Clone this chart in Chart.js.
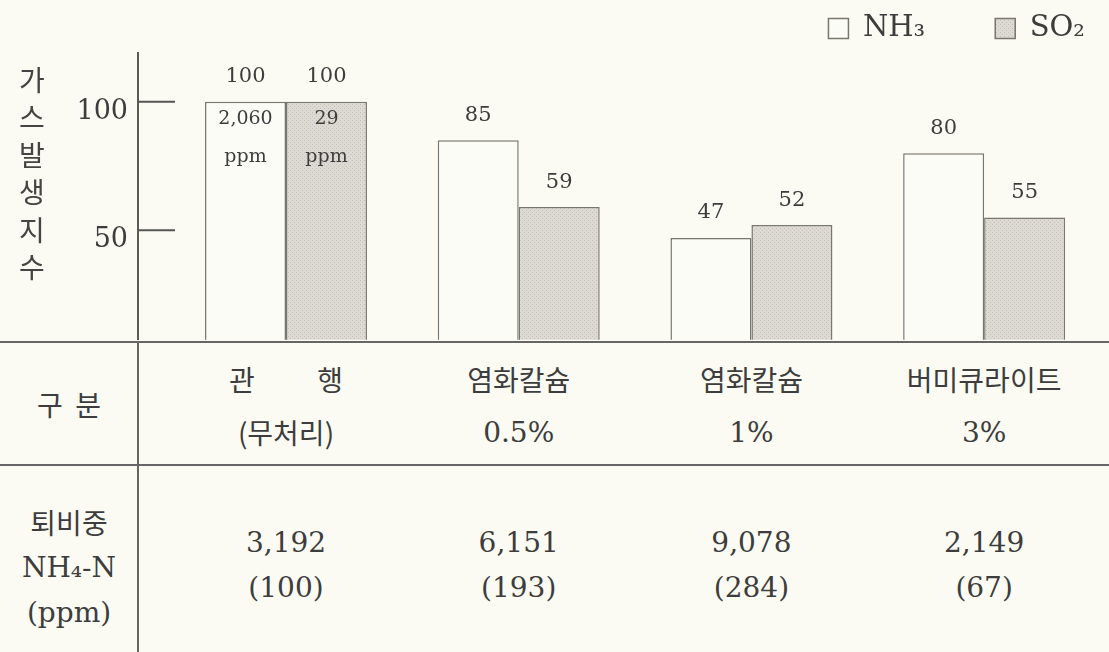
<!DOCTYPE html>
<html>
<head>
<meta charset="utf-8">
<script src="https://cdn.jsdelivr.net/npm/chart.js@4.4.1/dist/chart.umd.min.js"></script>
<style>
    html, body { margin: 0; padding: 0; background: #fbfbf3; }
    #wrap { position: relative; width: 1109px; height: 652px; overflow: hidden; }
    #chart { position: absolute; left: 0; top: 0; }
    #ytitle {
        position: absolute; left: 17px; top: 61px; width: 30px;
        font: 28px "Noto Sans CJK KR"; color: #444; line-height: 37.4px; text-align: center;
    }
    #table {
        position: absolute; left: 0; top: 341px; width: 1109px; height: 311px;
        border-top: 2px solid #666; box-sizing: border-box;
    }
    .cell {
        position: absolute; transform: translate(-50%, -50%);
        white-space: pre; color: #3d3d3d; line-height: 1;
    }
    .kr { font: 28px "Noto Sans CJK KR"; }
    .num { font: 28px "DejaVu Serif"; }
    .hline { position: absolute; left: 0; width: 1109px; height: 2px; background: #666; }
    .vline { position: absolute; top: 0; width: 2px; height: 311px; background: #666; }
</style>
</head>
<body>
<div id="wrap">
    <canvas id="chart" width="1109" height="341"></canvas>
    <div id="ytitle"></div>
    <div id="table"></div>
</div>
<script>
// categories (table header) and series
const categories = ['관　　 행', '염화칼슘', '염화칼슘', '버미큐라이트'];
const categoryNotes = ['(무처리)', '0.5%', '1%', '3%'];
const nh3Values = [100, 85, 47, 80];
const so2Values = [100, 59, 52, 55];
// ppm notes written inside the control bars
const ppmNotes = [['2,060', 'ppm'], ['29', 'ppm']];
const tickValues = [50, 100];
const yTitle = ['가', '스', '발', '생', '지', '수'];
// NH4-N in compost row
const nh4Values = ['3,192', '6,151', '9,078', '2,149'];
const nh4Index = ['(100)', '(193)', '(284)', '(67)'];

document.getElementById('ytitle').innerHTML = yTitle.join('<br>');

function dotPattern() {
    const c = document.createElement('canvas');
    c.width = 4; c.height = 4;
    const g = c.getContext('2d');
    g.fillStyle = '#dcdad2';
    g.fillRect(0, 0, 4, 4);
    g.fillStyle = '#c2c0b8';
    g.fillRect(0, 0, 1, 1);
    g.fillRect(2, 2, 1, 1);
    return g.createPattern(c, 'repeat');
}

const barLabels = {
    id: 'barLabels',
    afterDatasetsDraw(chart) {
        const ctx = chart.ctx;
        ctx.save();
        ctx.fillStyle = '#3d3d3d';
        ctx.textAlign = 'center';
        ctx.textBaseline = 'middle';
        chart.data.datasets.forEach((ds, di) => {
            chart.getDatasetMeta(di).data.forEach((bar, i) => {
                ctx.font = '21px "DejaVu Serif"';
                ctx.fillText(String(ds.data[i].y), bar.x, bar.y - 25);
                if (i === 0) {
                    ctx.font = '19px "DejaVu Serif"';
                    ctx.fillText(ppmNotes[di][0], bar.x, bar.y + 17);
                    ctx.fillText(ppmNotes[di][1], bar.x, bar.y + 55);
                }
            });
        });
        // short tick dashes inside the plot
        const y = chart.scales.y;
        ctx.strokeStyle = '#555';
        ctx.lineWidth = 2;
        tickValues.forEach(v => {
            const py = y.getPixelForValue(v);
            ctx.beginPath();
            ctx.moveTo(chart.chartArea.left, py);
            ctx.lineTo(chart.chartArea.left + 37, py);
            ctx.stroke();
        });
        ctx.restore();
    }
};

const chart = new Chart(document.getElementById('chart'), {
    type: 'bar',
    data: {
        datasets: [
            {
                label: 'NH₃',
                data: nh3Values.map((v, i) => ({ x: i, y: v })),
                backgroundColor: '#fcfcf6',
                borderColor: '#77776f',
                borderWidth: 1.5,
            },
            {
                label: 'SO₂',
                data: so2Values.map((v, i) => ({ x: i, y: v })),
                backgroundColor: dotPattern(),
                borderColor: '#77776f',
                borderWidth: 1.5,
            },
        ],
    },
    options: {
        responsive: false,
        animation: false,
        categoryPercentage: 0.696,
        barPercentage: 1.0,
        layout: { autoPadding: false, padding: { top: 2, right: 12, left: 0, bottom: 0 } },
        plugins: {
            tooltip: { enabled: false },
            legend: {
                position: 'top',
                align: 'end',
                labels: {
                    boxWidth: 20,
                    boxHeight: 20,
                    padding: 12,
                    color: '#3d3d3d',
                    font: { family: 'DejaVu Serif', size: 29 },
                    generateLabels(chart) {
                        const items = Chart.defaults.plugins.legend.labels.generateLabels(chart);
                        items.forEach((it, i) => {
                            if (i < items.length - 1) it.text += '\u2003\u2003';
                        });
                        return items;
                    },
                },
            },
        },
        scales: {
            x: {
                type: 'linear',
                display: false,
                offset: false,
                min: -0.636,
                max: 3.485,
                afterBuildTicks(scale) { scale.ticks = nh3Values.map((_, i) => ({ value: i })); },
            },
            y: {
                min: 7.4,
                max: 119,
                afterFit(scale) { scale.width = 138; },
                afterBuildTicks(scale) { scale.ticks = tickValues.map(v => ({ value: v })); },
                grid: { display: false, drawTicks: true, tickLength: 10, tickColor: 'rgba(0,0,0,0)' },
                border: { display: true, color: '#5a5a56', width: 2 },
                ticks: {
                    padding: 0,
                    labelOffset: 10,
                    color: '#3d3d3d',
                    font: { family: 'DejaVu Serif', size: 27, lineHeight: 0.1 },
                },
            },
        },
    },
    plugins: [barLabels],
});

// table under the chart, columns follow the bar groups
function addCell(parent, text, x, y, cls) {
    const d = document.createElement('div');
    d.className = 'cell ' + cls;
    d.textContent = text;
    d.style.left = x + 'px';
    d.style.top = y + 'px';
    parent.appendChild(d);
}

function buildTable(chart) {
    const table = document.getElementById('table');
    const xs = chart.scales.x;
    const axisX = chart.chartArea.left;

    const v = document.createElement('div');
    v.className = 'vline';
    v.style.left = (axisX - 1) + 'px';
    table.appendChild(v);
    const h = document.createElement('div');
    h.className = 'hline';
    h.style.top = '121px';
    table.appendChild(h);

    const mid = axisX / 2;
    addCell(table, '구  분', mid, 61, 'kr');
    addCell(table, '퇴비중', mid, 179, 'kr');
    addCell(table, 'NH₄-N', mid, 224, 'num');
    addCell(table, '(ppm)', mid, 269, 'num');

    categories.forEach((c, i) => {
        const cx = xs.getPixelForValue(i);
        addCell(table, c, cx, 36, 'kr');
        addCell(table, categoryNotes[i], cx, 89, i === 0 ? 'kr' : 'num');
        addCell(table, nh4Values[i], cx, 199, 'num');
        addCell(table, nh4Index[i], cx, 244, 'num');
    });
}

buildTable(chart);
</script>
</body>
</html>
